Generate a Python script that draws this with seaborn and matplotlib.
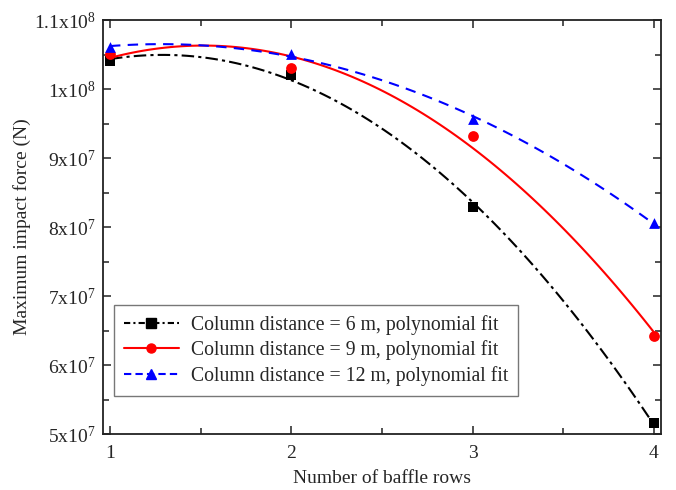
import matplotlib
matplotlib.use("Agg")
import matplotlib.pyplot as plt
import numpy as np
import pandas as pd
import seaborn as sns
from matplotlib.lines import Line2D
from matplotlib.ticker import MultipleLocator

# data
baffle_rows = [1, 2, 3, 4]
force_6m = [1.041e8, 1.020e8, 8.29e7, 5.16e7]
force_9m = [1.051e8, 1.030e8, 9.32e7, 6.42e7]
force_12m = [1.061e8, 1.051e8, 9.57e7, 8.06e7]

series_labels = [
    "Column distance = 6 m, polynomial fit",
    "Column distance = 9 m, polynomial fit",
    "Column distance = 12 m, polynomial fit",
]
y_ticks = [5e7, 6e7, 7e7, 8e7, 9e7, 1e8, 1.1e8]
y_tick_labels = ["5x10$^7$", "6x10$^7$", "7x10$^7$", "8x10$^7$",
                 "9x10$^7$", "1x10$^8$", "1.1x10$^8$"]

sns.set_style("ticks")
plt.rcParams["font.family"] = ["Liberation Serif", "DejaVu Serif"]
plt.rcParams["mathtext.fontset"] = "custom"
plt.rcParams["mathtext.rm"] = "Liberation Serif"
plt.rcParams["mathtext.it"] = "Liberation Serif:italic"
plt.rcParams["mathtext.default"] = "rm"
plt.rcParams["xtick.direction"] = "in"
plt.rcParams["ytick.direction"] = "in"

df = pd.DataFrame({
    "rows": baffle_rows * 3,
    "force": force_6m + force_9m + force_12m,
    "series": [series_labels[0]] * 4 + [series_labels[1]] * 4 + [series_labels[2]] * 4,
})

# colour, marker, curve style, legend style
styles = [
    ("black", "s", (0, (6, 2, 1.5, 2)), (0, (3, 1.5, 1, 1.5))),
    ("red", "o", "-", "-"),
    ("blue", "^", (0, (5, 3.5)), (0, (3.5, 2))),
]

fig = plt.figure(figsize=(6.76, 4.9), dpi=100)
ax = fig.add_axes([0.152, 0.114, 0.826, 0.845])

handles = []
for label, (color, marker, ls, leg_ls) in zip(series_labels, styles):
    sub = df[df["series"] == label]
    sns.regplot(data=sub, x="rows", y="force", order=2, ci=None, ax=ax,
                marker=marker, color=color,
                scatter_kws=dict(s=60, zorder=3, linewidths=0, alpha=1),
                line_kws=dict(ls=ls, lw=1.5))
    handles.append(Line2D([], [], color=color, marker=marker, ls=leg_ls,
                          lw=1.5, markersize=6.5))

ax.set_xlim(0.96, 4.04)
ax.set_ylim(5e7, 1.1e8)
ax.set_xticks(baffle_rows)
ax.set_xticklabels([str(v) for v in baffle_rows])
ax.xaxis.set_minor_locator(MultipleLocator(0.5))
ax.set_yticks(y_ticks)
ax.set_yticklabels(y_tick_labels)
ax.yaxis.set_minor_locator(MultipleLocator(5e6))
ax.tick_params(which="both", top=True, right=True, labelsize=14, color="#333333")
ax.tick_params(axis="y", pad=5)
ax.tick_params(axis="x", pad=8)
ax.tick_params(which="major", length=6, width=1.2)
ax.tick_params(which="minor", length=4, width=1.2)
for sp in ax.spines.values():
    sp.set_linewidth(1.3)
    sp.set_color("#222222")

ax.set_xlabel("Number of baffle rows", fontsize=14)
ax.set_ylabel("Maximum impact force (N)", fontsize=14)
ax.xaxis.set_label_coords(0.5, -0.106, transform=ax.transAxes)
ax.yaxis.set_label_coords(-0.145, 0.5, transform=ax.transAxes)
ax.xaxis.label.set_va("center")
ax.yaxis.label.set_va("center")

leg = ax.legend(handles, series_labels, loc="lower left",
                bbox_to_anchor=(0.02, 0.092), borderaxespad=0, fontsize=14.2,
                fancybox=False, edgecolor="#777777", framealpha=1,
                handlelength=2.8, handletextpad=0.6, borderpad=0.5,
                labelspacing=0.3)
leg.get_frame().set_linewidth(1.0)

fig.savefig("out.png", dpi=100)
